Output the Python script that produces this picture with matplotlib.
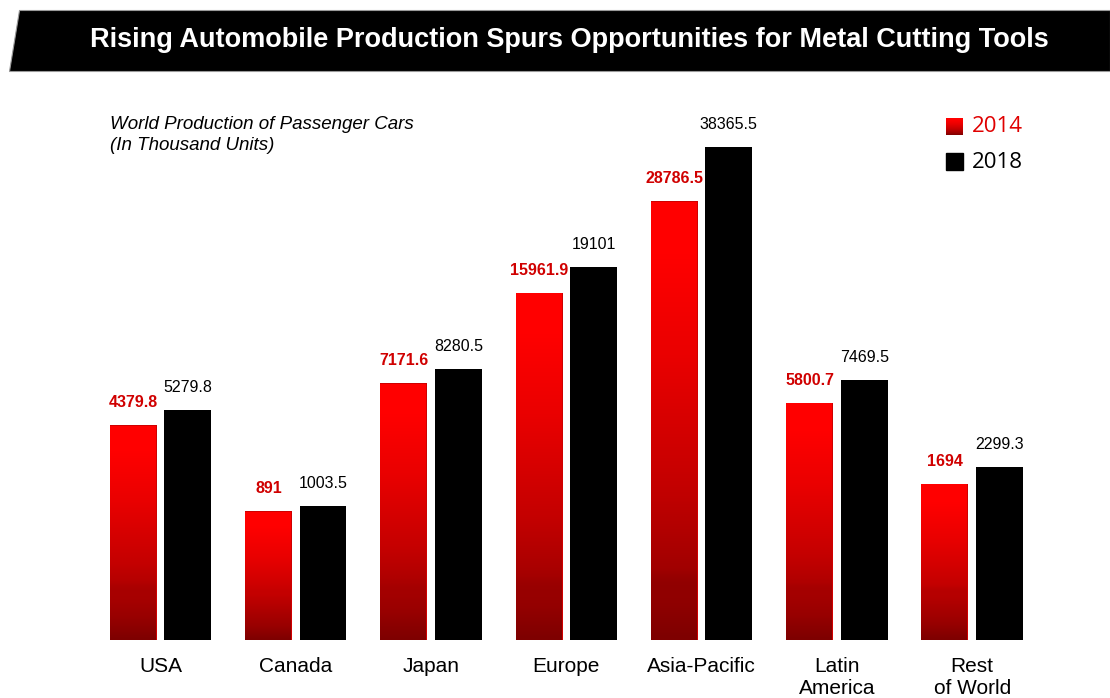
"""
Passenger car production by region, 2014 vs 2018
- grouped bars, red gradient for 2014, black for 2018
- compressed (power) y scale, no axis, values written above the bars
"""

import matplotlib
matplotlib.use("Agg")
import matplotlib.pyplot as plt
import numpy as np
from matplotlib.colors import LinearSegmentedColormap
from matplotlib.patches import Polygon, Rectangle

regions = ["USA", "Canada", "Japan", "Europe", "Asia-Pacific",
           "Latin\nAmerica", "Rest\nof World"]
prod_2014 = [4379.8, 891, 7171.6, 15961.9, 28786.5, 5800.7, 1694]
prod_2018 = [5279.8, 1003.5, 8280.5, 19101, 38365.5, 7469.5, 2299.3]
years = ["2014", "2018"]

TITLE = "Rising Automobile Production Spurs Opportunities for Metal Cutting Tools"
SUBTITLE = "World Production of Passenger Cars\n(In Thousand Units)"

W, H = 1110, 698
POW = 0.45

reds = LinearSegmentedColormap.from_list(
    "reds", [(0.0, "#7e0000"), (0.1, "#980000"), (0.35, "#c40000"),
             (0.65, "#ea0000"), (0.88, "#ff0000"), (1.0, "#ff0000")])


# signed power scale, squashes the big values
def fwd(y):
    y = np.asarray(y, dtype=float)
    return np.sign(y) * np.power(np.abs(y), POW)


def inv(y):
    y = np.asarray(y, dtype=float)
    return np.sign(y) * np.power(np.abs(y), 1 / POW)


def main():
    plt.rcParams["font.family"] = ["Liberation Sans", "DejaVu Sans"]
    fig = plt.figure(figsize=(W / 100, H / 100), dpi=100)
    fig.patch.set_facecolor("white")

    # black slanted banner with the title
    banner = Polygon([(19 / W, 1 - 10 / H), (1.0, 1 - 10 / H),
                      (1.0, 1 - 71 / H), (9 / W, 1 - 71 / H)],
                     closed=True, transform=fig.transFigure,
                     facecolor="black", edgecolor="#9a9a9a", lw=0.8)
    fig.add_artist(banner)
    fig.text(569 / W, 1 - 40 / H, TITLE, color="white", fontsize=19.5,
             fontweight="bold", ha="center", va="center")

    fig.text(110 / W, 1 - 116 / H, SUBTITLE, fontsize=13.5, style="italic",
             ha="left", va="top", linespacing=1.3)

    ax = fig.add_axes([92.85 / W, 58 / H, 947 / W, 540 / H])
    ax.set_yscale("function", functions=(fwd, inv))
    ax.set_xlim(-0.5, 6.5)
    base = -259
    ax.set_ylim(base, 48000)

    x = np.arange(len(regions))
    width = 0.347
    off = 0.2014

    h14 = np.array(prod_2014) - base
    h18 = np.array(prod_2018) - base
    bars_a = ax.bar(x - off, h14, width, bottom=base, color="#d00000", zorder=2)
    bars_b = ax.bar(x + off, h18, width, bottom=base, color="black", zorder=2)

    # each red bar gets its own vertical gradient, even on screen
    for b, v in zip(bars_a, prod_2014):
        x0 = b.get_x()
        ys = np.linspace(base, v, 600)
        t = (fwd(ys) - fwd(base)) / (fwd(v) - fwd(base))
        im = ax.imshow(t.reshape(-1, 1), cmap=reds, origin="lower",
                       aspect="auto", extent=(x0, x0 + width, base, v),
                       zorder=3, interpolation="bilinear", vmin=0, vmax=1)
        im.set_clip_path(b)

    for b, v in zip(bars_a, prod_2014):
        ax.annotate(f"{v:g}", (b.get_x() + width / 2, v),
                    xytext=(0, 15), textcoords="offset pixels",
                    ha="center", va="bottom", fontsize=11.5,
                    color="#d00000", fontweight="bold")
    for b, v in zip(bars_b, prod_2018):
        ax.annotate(f"{v:g}", (b.get_x() + width / 2, v),
                    xytext=(0, 15), textcoords="offset pixels",
                    ha="center", va="bottom", fontsize=11.5,
                    color="black")

    ax.set_xticks(x)
    ax.set_xticklabels(regions, fontsize=15, linespacing=1.2)
    ax.tick_params(axis="x", length=0, pad=12)
    ax.set_yticks([])
    ax.yaxis.set_minor_locator(matplotlib.ticker.NullLocator())
    for s in ax.spines.values():
        s.set_visible(False)
    ax.set_facecolor("none")

    # legend: gradient square for 2014, black square for 2018
    lax = fig.add_axes([946 / W, 1 - 135 / H, 17 / W, 17 / H])
    lax.imshow(np.linspace(0, 1, 64).reshape(-1, 1), cmap=reds,
               origin="lower", aspect="auto", interpolation="bilinear")
    lax.axis("off")
    fig.add_artist(Rectangle((946 / W, 1 - 170 / H), 17 / W, 17 / H,
                             transform=fig.transFigure, color="black"))
    fig.text(972 / W, 1 - 126 / H, years[0], fontsize=16, color="#e00000",
             family=["Open Sans", "DejaVu Sans"], va="center", ha="left")
    fig.text(972 / W, 1 - 162 / H, years[1], fontsize=16, color="black",
             family=["Open Sans", "DejaVu Sans"], va="center", ha="left")

    fig.savefig("out.png", dpi=100)


if __name__ == "__main__":
    main()
